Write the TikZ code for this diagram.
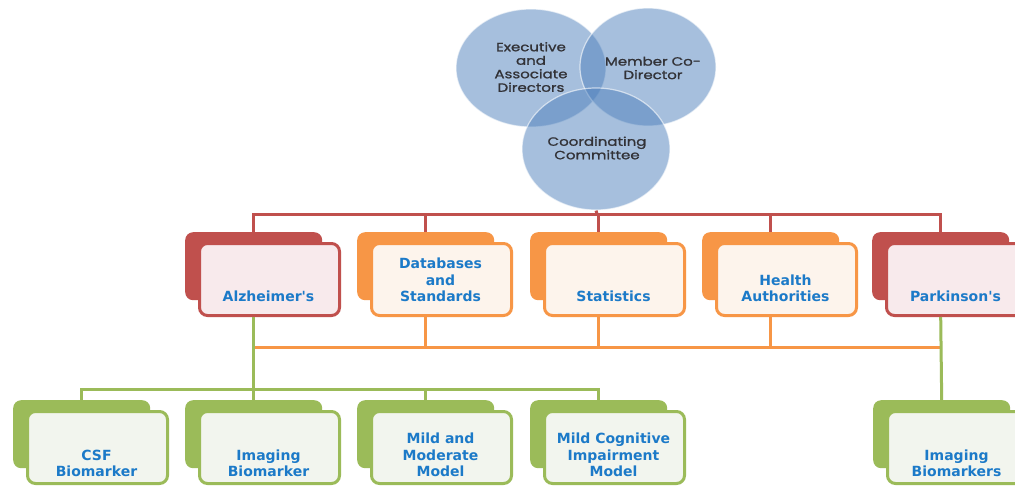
\documentclass[tikz,border=0pt]{standalone}
\usepackage{fontspec}
\usetikzlibrary{shapes.geometric}
\newfontfamily\boxfont{DejaVu Sans}
\newfontfamily\circfont[FakeStretch=1.25, FakeBold=1.2]{Poppins}
\definecolor{cred}{RGB}{192,80,77}
\definecolor{corange}{RGB}{247,150,70}
\definecolor{cgreen}{RGB}{155,187,89}
\definecolor{cblue}{RGB}{79,129,189}
\definecolor{ctext}{RGB}{28,122,200}
\definecolor{cgray}{RGB}{50,50,55}
\definecolor{fred}{RGB}{248,234,236}
\definecolor{forange}{RGB}{253,244,236}
\definecolor{fgreen}{RGB}{242,245,238}
\newcommand\orgbox[7]{%
  \node[backbox, fill=#4] (#1b) at (#2,#3) {};
  \node[frontbox, draw=#4, fill=#5] (#1) at (#2+13,#3+10) {};
  \node[boxtext] (#1t) at (#2+83.5,#3+#6) {#7};
}
\tikzset{
  backbox/.style={rectangle, rounded corners=8pt, anchor=north west, minimum width=137pt, minimum height=68pt, inner sep=0pt, draw=none},
  frontbox/.style={rectangle, rounded corners=8pt, anchor=north west, minimum width=140pt, minimum height=72pt, inner sep=0pt, line width=3pt},
  boxtext/.style={font=\boxfont\bfseries\fontsize{14}{16.5}\selectfont, text=ctext, align=center, anchor=south, inner sep=0pt},
  circ/.style={ellipse, fill=cblue, fill opacity=0.5, draw=white, draw opacity=0.6, line width=1.2pt, inner sep=0pt},
  circtext/.style={font=\circfont\fontsize{12}{13.5}\selectfont, text=cgray, align=center, inner sep=0pt},
  redl/.style={draw=cred, line width=3pt},
  orangel/.style={draw=corange, line width=3pt},
  greenl/.style={draw=cgreen, line width=3pt}
}
\begin{document}
\begin{tikzpicture}[x=1pt, y=-1pt]
\useasboundingbox (0,0) rectangle (1015,485);
\fill[white] (0,0) rectangle (1015,485);
% circles
\node[circ, minimum width=150pt, minimum height=118pt] (exe) at (531,68) {};
\node[circ, minimum width=136pt, minimum height=118pt] (mem) at (648,67) {};
\node[circ, minimum width=148pt, minimum height=122pt] (cc) at (596,149) {};
\node[circtext] (exet) at (531,67) {Executive\\and\\Associate\\Directors};
\node[circtext] (memt) at (653,68) {Member Co-\\Director};
\node[circtext] (cct) at (597,148) {Coordinating\\Committee};
% coordinates for buses
\coordinate (busR) at (597,214);
\coordinate (busO) at (597,347);
\coordinate (busG) at (597,389);
% top row
\orgbox{alz}{185}{232}{cred}{fred}{70}{Alzheimer's}
\orgbox{db}{357}{232}{corange}{forange}{70}{Databases\\and\\Standards}
\orgbox{stat}{530}{232}{corange}{forange}{70}{Statistics}
\orgbox{health}{702}{232}{corange}{forange}{70}{Health\\Authorities}
\orgbox{park}{872}{232}{cred}{fred}{70}{Parkinson's}
% bottom row
\orgbox{csf}{13}{400}{cgreen}{fgreen}{77}{CSF\\Biomarker}
\orgbox{img}{185}{400}{cgreen}{fgreen}{77}{Imaging\\Biomarker}
\orgbox{mild}{357}{400}{cgreen}{fgreen}{77}{Mild and\\Moderate\\Model}
\orgbox{mci}{530}{400}{cgreen}{fgreen}{77}{Mild Cognitive\\Impairment\\Model}
\orgbox{ib}{873}{400}{cgreen}{fgreen}{77}{Imaging\\Biomarkers}
% red connectors
\draw[redl] (cc.south) -- (busR);
\draw[redl] (alzb.north) -- (alzb.north |- busR) -- (parkb.north |- busR) -- (parkb.north);
\draw[redl] (dbb.north |- busR) -- (dbb.north);
\draw[redl] (statb.north |- busR) -- (statb.north);
\draw[redl] (healthb.north |- busR) -- (healthb.north);
% orange connectors
\draw[orangel] (alzb.north |- busO) -- (parkb.north |- busO);
\draw[orangel] (dbb.north |- db.south) -- (dbb.north |- busO);
\draw[orangel] (statb.north |- stat.south) -- (statb.north |- busO);
\draw[orangel] (healthb.north |- health.south) -- (healthb.north |- busO);
% green connectors
\draw[greenl] (alzb.north |- alz.south) -- (imgb.north);
\draw[greenl] (csfb.north) -- (csfb.north |- busG) -- (mcib.north |- busG) -- (mcib.north);
\draw[greenl] (mildb.north |- busG) -- (mildb.north);
\draw[greenl] (parkb.north |- park.south) -- (ibb.north);
\end{tikzpicture}
\end{document}
